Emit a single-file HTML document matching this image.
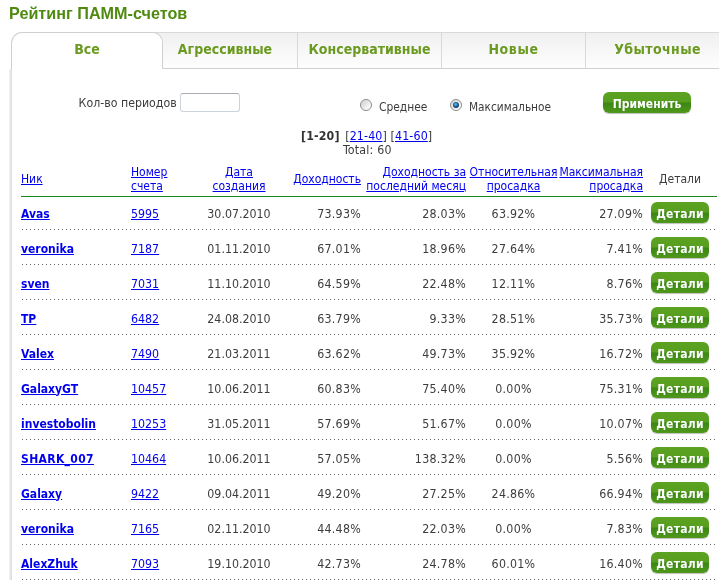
<!DOCTYPE html>
<html lang="ru">
<head>
<meta charset="utf-8">
<title>Рейтинг ПАММ-счетов</title>
<style>
html,body{margin:0;padding:0;background:#fff;}
body{width:719px;height:580px;overflow:hidden;position:relative;font-family:"DejaVu Sans Condensed","Liberation Sans",sans-serif;font-size:12.3px;color:#3c3c3c;}
h1{position:absolute;left:9px;top:3px;margin:0;font-family:"Liberation Sans",sans-serif;font-size:16.2px;font-weight:bold;color:#4f8a10;line-height:20px;white-space:nowrap;}
.tabs{position:absolute;left:11px;top:32px;height:37px;width:740px;}
.tab{position:absolute;top:0;height:35px;border-top:1px solid #d9d9d9;border-bottom:1px solid #d0d0d0;border-right:1px solid #d9d9d9;background:linear-gradient(#f0f0f0,#fefefe);text-align:center;line-height:33px;font-weight:bold;font-size:14px;color:#6a9a1f;box-sizing:content-box;}
.tab.act{background:#fff;border:1px solid #d0d0d0;border-bottom:none;border-radius:11px 10px 0 0;height:36px;z-index:2;}
.panel{position:absolute;left:9px;top:69px;width:3px;height:520px;background:linear-gradient(90deg,#f3f3f3,#dadada);}
.t{position:absolute;white-space:nowrap;line-height:14px;}
a{color:#0000ee;text-decoration:underline;}
.inp{position:absolute;left:180px;top:93px;width:58px;height:17px;border:1px solid #ccd3dd;border-top-color:#a9acb2;border-radius:3px;background:#fff;}
.radio{position:absolute;width:10px;height:10px;border-radius:50%;border:1px solid #8a8a8a;background:linear-gradient(135deg,#c9c9c9,#fbfbfb 80%);box-shadow:inset 0 0 0 1px rgba(255,255,255,.35);}
.radio.on::after{content:"";position:absolute;left:2px;top:2px;width:6px;height:6px;border-radius:50%;background:radial-gradient(circle at 45% 40%,#6cc0ea 0%,#1f6fa8 40%,#0a2c4d 72%);}
.btn{position:absolute;height:21px;border-radius:6px;background:linear-gradient(#5da322 0%,#579d1f 48%,#3a8713 52%,#4f981c 100%);color:#fff;font-weight:bold;font-size:12px;text-align:center;line-height:24px;box-shadow:0 1px 1px rgba(0,0,0,.25);}
table{position:absolute;left:21px;top:162px;width:696px;border-collapse:collapse;table-layout:fixed;}
th{font-weight:normal;font-size:12px;height:34px;padding:0;vertical-align:middle;line-height:14px;}
td{height:35px;padding:0;vertical-align:middle;}
.gl{position:absolute;left:21px;width:696px;height:1px;top:196px;background:#178a17;}
.dl{position:absolute;left:22px;width:696px;height:1px;background:repeating-linear-gradient(90deg,#666 0 1px,transparent 1px 4px);}
td:nth-child(6),th:nth-child(6){padding-left:3px}
.l{text-align:left}.r{text-align:right}.c{text-align:center}
td b a{font-weight:bold;font-size:12px}
td:nth-child(n+4){letter-spacing:.28px}
.btn.d{position:relative;display:block;left:8px;top:-1px;width:58px;}
</style>
</head>
<body>
<h1>Рейтинг ПАММ-счетов</h1>
<div class="tabs">
<div class="tab act" style="left:0;width:150px">Все</div>
<div class="tab" style="left:140px;width:146px;padding-left:0"><span style="position:relative;left:1px">Агрессивные</span></div>
<div class="tab" style="left:287px;width:143px">Консервативные</div>
<div class="tab" style="left:431px;width:143px;letter-spacing:.6px">Новые</div>
<div class="tab" style="left:575px;width:143px;letter-spacing:.4px">Убыточные</div>
</div>
<div class="panel"></div>
<div class="t" style="left:78.6px;top:96px;font-size:12.25px">Кол-во периодов</div>
<div class="inp"></div>
<div class="radio" style="left:360px;top:99px"></div>
<div class="t" style="left:379px;top:100px;font-size:11.9px">Среднее</div>
<div class="radio on" style="left:450px;top:99px"></div>
<div class="t" style="left:469px;top:100px;font-size:11.75px">Максимальное</div>
<div class="btn" style="left:603px;top:92px;width:88px">Применить</div>
<div class="t" style="left:301px;top:129px;letter-spacing:.13px"><b style="color:#333;margin-right:2px">[1-20]</b> [<a>21-40</a>] [<a>41-60</a>]</div>
<div class="t" style="left:343px;top:143px;letter-spacing:.2px">Total: 60</div>
<table>
<colgroup><col style="width:110px"><col style="width:62px"><col style="width:92px"><col style="width:76px"><col style="width:105px"><col style="width:92px"><col style="width:85px"><col style="width:74px"></colgroup>
<tr><th class="l"><a>Ник</a></th><th class="l"><a>Номер<br>счета</a></th><th class="c"><a>Дата<br>создания</a></th><th class="r"><a>Доходность</a></th><th class="r"><a>Доходность за<br>последний месяц</a></th><th class="c"><a>Относительная<br>просадка</a></th><th class="r"><a>Максимальная<br>просадка</a></th><th class="c">Детали</th></tr>
<tr><td class="l"><b><a>Avas</a></b></td><td class="l"><a>5995</a></td><td class="c">30.07.2010</td><td class="r">73.93%</td><td class="r">28.03%</td><td class="c">63.92%</td><td class="r">27.09%</td><td><span class="btn d">Детали</span></td></tr>
<tr><td class="l"><b><a>veronika</a></b></td><td class="l"><a>7187</a></td><td class="c">01.11.2010</td><td class="r">67.01%</td><td class="r">18.96%</td><td class="c">27.64%</td><td class="r">7.41%</td><td><span class="btn d">Детали</span></td></tr>
<tr><td class="l"><b><a>sven</a></b></td><td class="l"><a>7031</a></td><td class="c">11.10.2010</td><td class="r">64.59%</td><td class="r">22.48%</td><td class="c">12.11%</td><td class="r">8.76%</td><td><span class="btn d">Детали</span></td></tr>
<tr><td class="l"><b><a>TP</a></b></td><td class="l"><a>6482</a></td><td class="c">24.08.2010</td><td class="r">63.79%</td><td class="r">9.33%</td><td class="c">28.51%</td><td class="r">35.73%</td><td><span class="btn d">Детали</span></td></tr>
<tr><td class="l"><b><a>Valex</a></b></td><td class="l"><a>7490</a></td><td class="c">21.03.2011</td><td class="r">63.62%</td><td class="r">49.73%</td><td class="c">35.92%</td><td class="r">16.72%</td><td><span class="btn d">Детали</span></td></tr>
<tr><td class="l"><b><a>GalaxyGT</a></b></td><td class="l"><a>10457</a></td><td class="c">10.06.2011</td><td class="r">60.83%</td><td class="r">75.40%</td><td class="c">0.00%</td><td class="r">75.31%</td><td><span class="btn d">Детали</span></td></tr>
<tr><td class="l"><b><a>investobolin</a></b></td><td class="l"><a>10253</a></td><td class="c">31.05.2011</td><td class="r">57.69%</td><td class="r">51.67%</td><td class="c">0.00%</td><td class="r">10.07%</td><td><span class="btn d">Детали</span></td></tr>
<tr><td class="l"><b><a style="letter-spacing:.35px">SHARK_007</a></b></td><td class="l"><a>10464</a></td><td class="c">10.06.2011</td><td class="r">57.05%</td><td class="r">138.32%</td><td class="c">0.00%</td><td class="r">5.56%</td><td><span class="btn d">Детали</span></td></tr>
<tr><td class="l"><b><a>Galaxy</a></b></td><td class="l"><a>9422</a></td><td class="c">09.04.2011</td><td class="r">49.20%</td><td class="r">27.25%</td><td class="c">24.86%</td><td class="r">66.94%</td><td><span class="btn d">Детали</span></td></tr>
<tr><td class="l"><b><a>veronika</a></b></td><td class="l"><a>7165</a></td><td class="c">02.11.2010</td><td class="r">44.48%</td><td class="r">22.03%</td><td class="c">0.00%</td><td class="r">7.83%</td><td><span class="btn d">Детали</span></td></tr>
<tr><td class="l"><b><a>AlexZhuk</a></b></td><td class="l"><a>7093</a></td><td class="c">19.10.2010</td><td class="r">42.73%</td><td class="r">24.78%</td><td class="c">60.01%</td><td class="r">16.40%</td><td><span class="btn d">Детали</span></td></tr>
</table>
<div class="gl"></div>
<div class="dl" style="top:229px"></div>
<div class="dl" style="top:264px"></div>
<div class="dl" style="top:299px"></div>
<div class="dl" style="top:334px"></div>
<div class="dl" style="top:369px"></div>
<div class="dl" style="top:404px"></div>
<div class="dl" style="top:439px"></div>
<div class="dl" style="top:474px"></div>
<div class="dl" style="top:509px"></div>
<div class="dl" style="top:544px"></div>
<div class="dl" style="top:579px"></div>
</body>
</html>
